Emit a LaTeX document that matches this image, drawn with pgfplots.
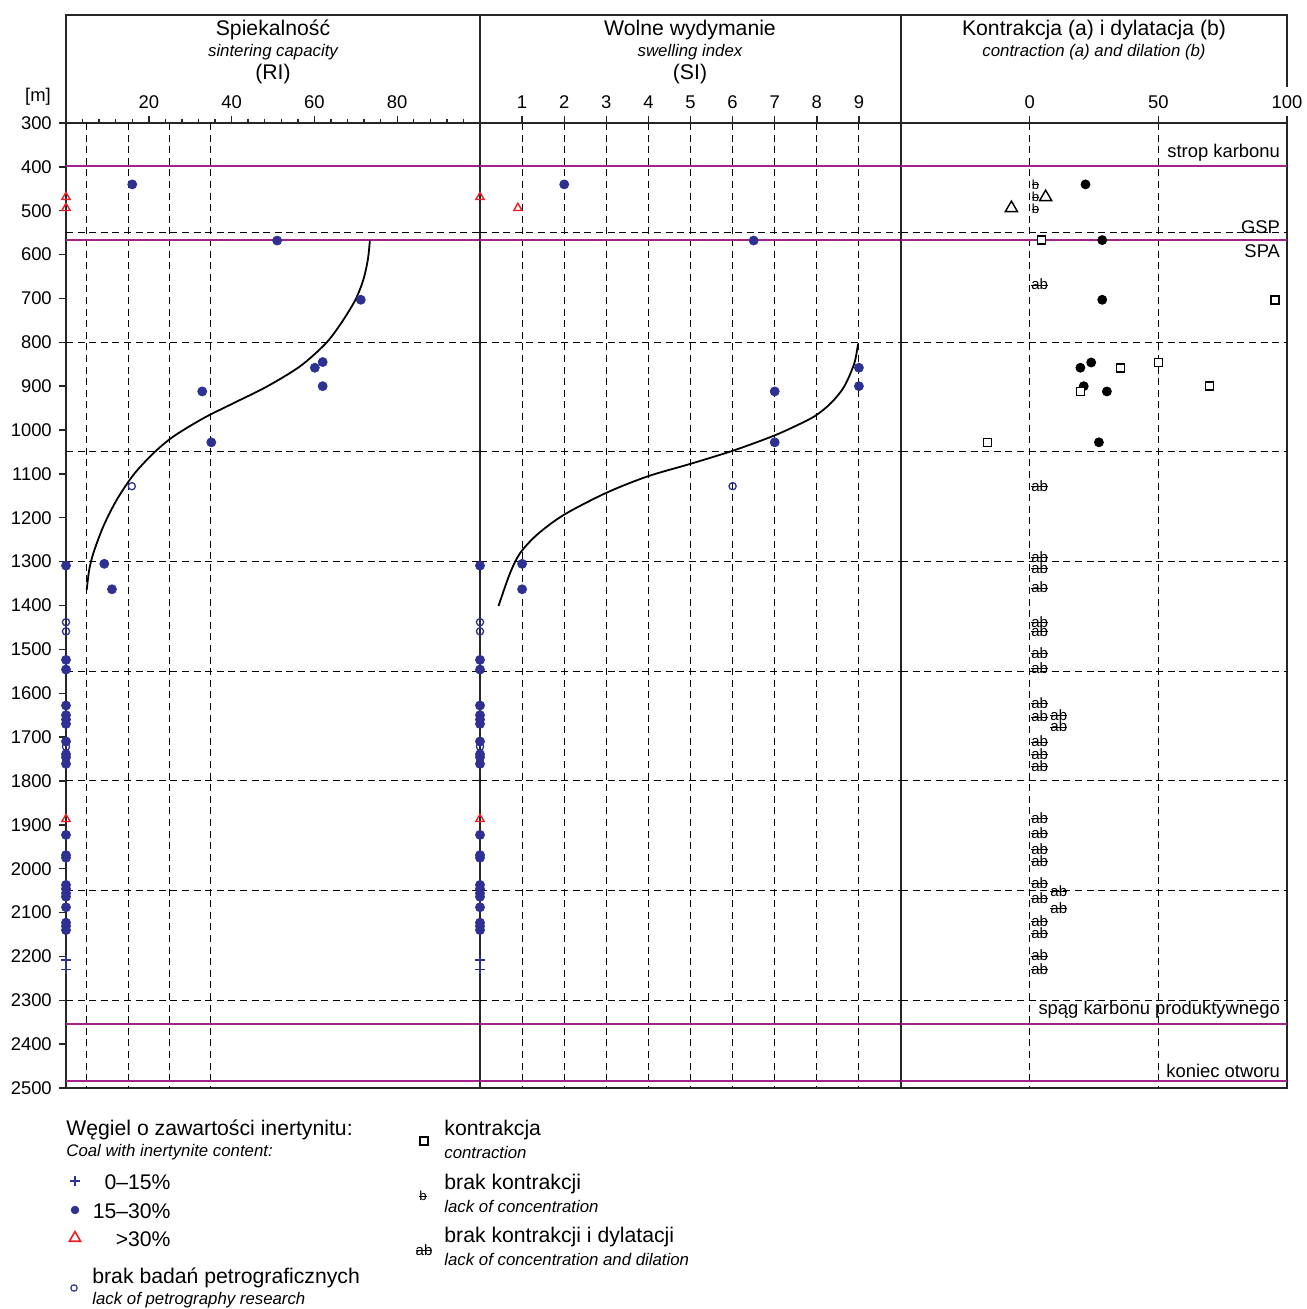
\documentclass[border=0pt]{standalone}
\usepackage{pgfplots}
\pgfplotsset{compat=1.18}
\usepackage{fontspec}
\setmainfont{Liberation Sans}
\definecolor{navy}{RGB}{46,49,146}
\definecolor{myred}{RGB}{237,28,36}
\definecolor{mag}{RGB}{165,33,141}
\newsavebox\strkbox
\newcommand\strk[1]{\sbox\strkbox{#1}\rlap{\rule[0.55ex]{\wd\strkbox}{0.45pt}}\usebox\strkbox}
\newcommand\fsz[1]{\fontsize{#1}{#1}\selectfont}

\pgfplotsset{
  panel/.style={
    scale only axis, height=482.5pt, anchor=south west,
    y dir=reverse, ymin=300, ymax=2500, clip=false,
    axis line style={black!85, line width=0.75pt},
    tick style={black!85, line width=0.7pt},
    tick align=outside,
    xtick pos=right, xticklabel pos=right,
    major tick length=3.6pt, minor tick length=2.2pt,
    tick label style={font=\fsz{9.2}},
    /pgf/number format/assume math mode=true,
    /pgf/number format/1000 sep={},
    extra y ticks={550,800,1050,1300,1550,1800,2050,2300},
    extra y tick labels={},
    extra y tick style={grid=major, major tick length=0pt},
    grid style={black, line width=0.5pt, dash pattern=on 3.5pt off 2.3pt},
  },
  magline/.style={mag, line width=1pt, forget plot},
  fdot/.style={only marks, mark=*, mark size=2.25pt, navy, mark options={fill=navy, draw=navy}},
  odot/.style={only marks, mark=o, mark size=1.8pt, navy, line width=0.65pt},
  rtri/.style={only marks, mark=triangle, mark size=2.4pt, myred, line width=0.7pt},
  bplus/.style={only marks, mark=+, mark size=2.5pt, navy, line width=0.6pt},
  fitcurve/.style={black, line width=0.9pt, smooth, no marks},
}

\pgfplotstableread{
x y
0 1309
0 1524
0 1546
0 1628
0 1650
0 1660
0 1670
0 1710
0 1739
0 1746
0 1761
0 1923
0 1969
0 1975
0 2037
0 2046
0 2056
0 2064
0 2088
0 2123
0 2131
0 2140
}\zerocol

\begin{document}
\begin{tikzpicture}
\path[use as bounding box] (0pt,0pt) rectangle (653pt,654.5pt);

% ---------------- Panel 1: RI ----------------
\begin{axis}[panel, at={(33pt,110.5pt)}, width=207pt,
  xmin=0, xmax=100, xtick={20,40,60,80},
  minor xtick={4,8,...,96},
  extra x ticks={5,15,25,35}, extra x tick labels={},
  extra x tick style={grid=major, major tick length=0pt},
  ytick={300,400,...,2500}, ytick pos=left]
\addplot[magline] coordinates {(0,397) (100,397)};
\addplot[magline] coordinates {(0,567) (100,567)};
\addplot[magline] coordinates {(0,2353) (100,2353)};
\addplot[magline] coordinates {(0,2485) (100,2485)};
\addplot[fitcurve] coordinates {(73.4,568) (72.9,612) (71.8,658) (69.8,705) (66.2,760) (62.6,804) (56.5,855) (48.5,901) (40.4,939) (33.2,973) (25.9,1015) (21.1,1053) (16.3,1102) (12.2,1160) (9.0,1220) (6.6,1281) (5.6,1319) (5.0,1365)};
\addplot[fdot] coordinates {(16,440) (51,568) (71.2,703) (62,845) (60.1,858) (62,900) (32.9,912) (35.1,1028) (9.25,1305) (11.1,1363)};
\addplot[fdot] table {\zerocol};
\addplot[odot] coordinates {(15.9,1128) (0,1438) (0,1459) (0,1722)};
\addplot[rtri] coordinates {(0,469) (0,494) (0,1887)};
\addplot[bplus] coordinates {(0,2208) (0,2229)};
\end{axis}

% ---------------- Panel 2: SI ----------------
\begin{axis}[panel, at={(240pt,110.5pt)}, width=210.5pt,
  xmin=0, xmax=10, xtick={1,2,...,9}, xmajorgrids,
  ytick=\empty]
\addplot[magline] coordinates {(0,397) (10,397)};
\addplot[magline] coordinates {(0,567) (10,567)};
\addplot[magline] coordinates {(0,2353) (10,2353)};
\addplot[magline] coordinates {(0,2485) (10,2485)};
\addplot[fitcurve] coordinates {(8.98,803) (8.89,848) (8.65,901) (8.33,939) (7.94,969) (7.38,996) (6.90,1016) (6.01,1047) (5.0,1077) (3.97,1106) (2.98,1144) (1.98,1194) (1.35,1239) (0.95,1281) (0.71,1327) (0.44,1401)};
\addplot[fdot] coordinates {(2,440) (6.5,568) (9,858) (9,900) (7,912) (7,1028) (1,1305) (1,1363)};
\addplot[fdot] table {\zerocol};
\addplot[odot] coordinates {(6,1128) (0,1438) (0,1459) (0,1722)};
\addplot[rtri] coordinates {(0,469) (0.9,494) (0,1887)};
\addplot[bplus] coordinates {(0,2208) (0,2229)};
\end{axis}

% ---------------- Panel 3: contraction / dilation ----------------
\begin{axis}[panel, at={(450.5pt,110.5pt)}, width=193pt,
  xmin=-50, xmax=100, xtick={0,50,100}, xmajorgrids,
  ytick=\empty]
\addplot[magline] coordinates {(-50,397) (100,397)};
\addplot[magline] coordinates {(-50,567) (100,567)};
\addplot[magline] coordinates {(-50,2353) (100,2353)};
\addplot[magline] coordinates {(-50,2485) (100,2485)};
\addplot[only marks, mark=*, mark size=2.25pt, black] coordinates {(21.7,440) (28.2,567) (28.2,703) (23.9,846) (19.7,858) (21.0,900) (30.0,912) (26.9,1028)};
\addplot[only marks, mark=square*, mark size=2pt, black, line width=0.75pt, mark options={fill=white}] coordinates {(4.5,567) (95.4,703) (50.1,846) (35.3,858) (69.9,900) (19.7,912) (-16.4,1028)};
\addplot[only marks, mark=triangle, mark size=3.5pt, black, line width=0.7pt] coordinates {(6.2,469) (-7.1,494)};
\addplot[only marks, mark=text, text mark={\fsz{6.6}\strk{b}}, black] coordinates {(2.3,440) (2.3,469) (2.3,496)};
\addplot[only marks, mark=text, text mark={\fsz{7.5}\strk{ab}}, black] coordinates {(3.9,668) (3.9,1128) (3.9,1289) (3.9,1315) (3.9,1359) (3.9,1438) (3.9,1459) (3.9,1509) (3.9,1543) (3.9,1623) (3.9,1653) (3.9,1710) (3.9,1739) (3.9,1766) (3.9,1885) (3.9,1918) (3.9,1955) (3.9,1982) (3.9,2033) (3.9,2067) (3.9,2119) (3.9,2147) (3.9,2198) (3.9,2229)};
\addplot[only marks, mark=text, text mark={\fsz{7.5}\strk{ab}}, black] coordinates {(11.3,1650) (11.3,1676) (11.3,2051) (11.3,2089)};
\node[anchor=east, inner sep=0pt, font=\fsz{9.2}] at (axis cs:97.4,368) {strop karbonu};
\node[anchor=east, inner sep=0pt, font=\fsz{9.2}] at (axis cs:97.4,537) {GSP};
\node[anchor=east, inner sep=0pt, font=\fsz{9.2}] at (axis cs:97.4,592) {SPA};
\node[anchor=east, inner sep=0pt, font=\fsz{9.2}] at (axis cs:97.4,2322) {spąg karbonu produktywnego};
\node[anchor=east, inner sep=0pt, font=\fsz{9.2}] at (axis cs:97.4,2461) {koniec otworu};
\end{axis}

% ---------------- Header ----------------
\draw[black!85, line width=0.75pt] (33pt,593pt) -- (33pt,647pt) -- (643.5pt,647pt) -- (643.5pt,611pt);
\draw[black!85, line width=0.75pt] (240pt,593pt) -- (240pt,647pt);
\draw[black!85, line width=0.75pt] (450.5pt,593pt) -- (450.5pt,647pt);
\node[font=\fsz{10.6}] at (136.5pt,639.5pt) {Spiekalność};
\node[font=\itshape\fsz{8.4}] at (136.5pt,628.5pt) {sintering capacity};
\node[font=\fsz{10.6}] at (136.5pt,617.5pt) {(RI)};
\node[font=\fsz{10.6}] at (345pt,639.5pt) {Wolne wydymanie};
\node[font=\itshape\fsz{8.4}] at (345pt,628.5pt) {swelling index};
\node[font=\fsz{10.6}] at (345pt,617.5pt) {(SI)};
\node[font=\fsz{10.6}] at (547pt,639.5pt) {Kontrakcja (a) i dylatacja (b)};
\node[font=\itshape\fsz{8.4}] at (547pt,628.5pt) {contraction (a) and dilation (b)};
\node[font=\fsz{9.2}] at (19pt,606pt) {[m]};

% ---------------- Legend ----------------
\begin{axis}[at={(0pt,0pt)}, anchor=south west, scale only axis, width=653pt, height=104.5pt,
  xmin=0, xmax=1306, ymin=1100, ymax=1309, y dir=reverse, hide axis, clip=false]
\addplot[only marks, mark=+, mark size=2.4pt, navy, line width=0.6pt] coordinates {(75,1181)};
\addplot[only marks, mark=*, mark size=1.9pt, navy] coordinates {(75,1210)};
\addplot[only marks, mark=triangle, mark size=3.2pt, myred, line width=0.8pt] coordinates {(75,1238)};
\addplot[only marks, mark=o, mark size=1.6pt, navy, line width=0.6pt] coordinates {(74,1288)};
\addplot[only marks, mark=square, mark size=1.9pt, black, line width=0.75pt] coordinates {(424,1141)};
\addplot[only marks, mark=text, text mark={\fsz{6.6}\strk{b}}, black] coordinates {(423,1196)};
\addplot[only marks, mark=text, text mark={\fsz{7.5}\strk{ab}}, black] coordinates {(424,1250)};
\node[anchor=west, inner sep=0pt, font=\fsz{10.6}] at (axis cs:66,1130) {Węgiel o zawartości inertynitu:};
\node[anchor=west, inner sep=0pt, font=\itshape\fsz{8.4}] at (axis cs:66,1152) {Coal with inertynite content:};
\node[anchor=east, inner sep=0pt, font=\fsz{10.6}] at (axis cs:171,1182) {0–15\%};
\node[anchor=east, inner sep=0pt, font=\fsz{10.6}] at (axis cs:171,1211) {15–30\%};
\node[anchor=east, inner sep=0pt, font=\fsz{10.6}] at (axis cs:171,1239) {>30\%};
\node[anchor=west, inner sep=0pt, font=\fsz{10.6}] at (axis cs:92,1278) {brak badań petrograficznych};
\node[anchor=west, inner sep=0pt, font=\itshape\fsz{8.4}] at (axis cs:92,1300) {lack of petrography research};
\node[anchor=west, inner sep=0pt, font=\fsz{10.6}] at (axis cs:444,1130) {kontrakcja};
\node[anchor=west, inner sep=0pt, font=\itshape\fsz{8.4}] at (axis cs:444,1152) {contraction};
\node[anchor=west, inner sep=0pt, font=\fsz{10.6}] at (axis cs:444,1184) {brak kontrakcji};
\node[anchor=west, inner sep=0pt, font=\itshape\fsz{8.4}] at (axis cs:444,1206) {lack of concentration};
\node[anchor=west, inner sep=0pt, font=\fsz{10.6}] at (axis cs:444,1237) {brak kontrakcji i dylatacji};
\node[anchor=west, inner sep=0pt, font=\itshape\fsz{8.4}] at (axis cs:444,1259) {lack of concentration and dilation};
\end{axis}
\end{tikzpicture}
\end{document}
